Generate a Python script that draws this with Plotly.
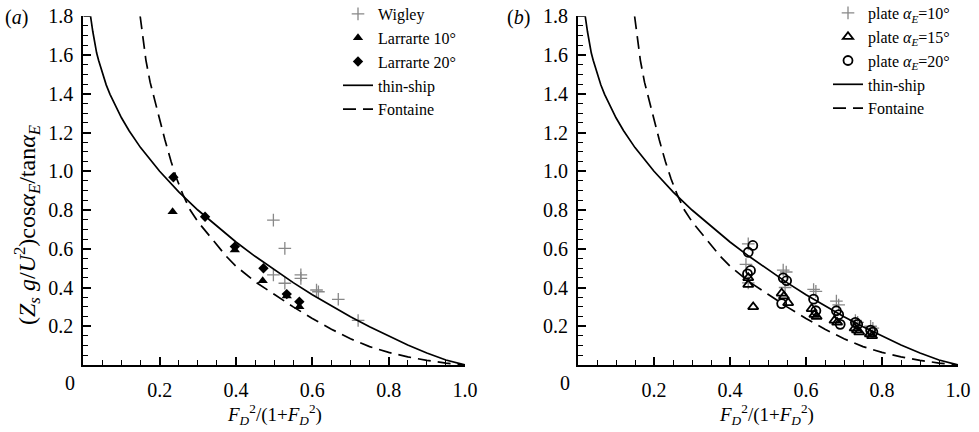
import plotly.graph_objects as go

# ---------------- data ----------------
thin_x = [0.0, 0.019, 0.025, 0.03, 0.035, 0.04, 0.05, 0.06, 0.07, 0.08, 0.10, 0.12, 0.15,
          0.20, 0.25, 0.30, 0.35, 0.40, 0.45, 0.50, 0.55, 0.60, 0.65, 0.70, 0.75, 0.80,
          0.85, 0.90, 0.95, 1.0]
thin_y = [1.8, 1.8, 1.72, 1.66, 1.61, 1.573, 1.505, 1.446, 1.397, 1.355, 1.276, 1.209, 1.122,
          1.0, 0.894, 0.80, 0.715, 0.635, 0.561, 0.491, 0.425, 0.363, 0.305, 0.249, 0.197, 0.148,
          0.103, 0.062, 0.026, 0.0]

font_x = [0.149, 0.156, 0.164, 0.175, 0.19, 0.20, 0.214, 0.23, 0.245, 0.262, 0.28, 0.30,
          0.325, 0.35, 0.375, 0.40, 0.45, 0.50, 0.55, 0.60, 0.65, 0.70, 0.75, 0.80, 0.85,
          0.90, 0.95, 1.0]
font_y = [1.80, 1.69, 1.574, 1.46, 1.34, 1.265, 1.161, 1.05, 0.96, 0.875, 0.80, 0.74,
          0.68, 0.625, 0.56, 0.51, 0.43, 0.365, 0.30, 0.24, 0.185, 0.135, 0.095, 0.065, 0.042,
          0.024, 0.01, 0.0]

wigley_x = [0.498, 0.528, 0.498, 0.528, 0.570, 0.570, 0.611, 0.616, 0.668, 0.72]
wigley_y = [0.748, 0.602, 0.465, 0.422, 0.465, 0.447, 0.387, 0.378, 0.339, 0.23]

lar10_x = [0.234, 0.397, 0.470, 0.533, 0.566]
lar10_y = [0.791, 0.594, 0.435, 0.356, 0.301]

lar20_x = [0.236, 0.319, 0.397, 0.472, 0.533, 0.566]
lar20_y = [0.969, 0.765, 0.611, 0.499, 0.366, 0.327]

p10_x = [0.448, 0.442, 0.448, 0.540, 0.548, 0.545, 0.620, 0.626, 0.680, 0.686, 0.730, 0.736, 0.770, 0.776]
p10_y = [0.625, 0.519, 0.424, 0.490, 0.480, 0.400, 0.390, 0.380, 0.330, 0.310, 0.230, 0.220, 0.200, 0.190]

p15_x = [0.448, 0.448, 0.461, 0.536, 0.542, 0.553, 0.615, 0.622, 0.628, 0.675, 0.682, 0.728, 0.734, 0.740, 0.768, 0.774]
p15_y = [0.450, 0.415, 0.300, 0.370, 0.355, 0.321, 0.290, 0.260, 0.250, 0.230, 0.220, 0.190, 0.180, 0.170, 0.160, 0.150]

p20_x = [0.460, 0.448, 0.454, 0.446, 0.540, 0.549, 0.536, 0.620, 0.626, 0.680, 0.686, 0.690, 0.730, 0.736, 0.770, 0.776]
p20_y = [0.617, 0.582, 0.488, 0.470, 0.450, 0.435, 0.317, 0.340, 0.280, 0.280, 0.260, 0.210, 0.220, 0.210, 0.180, 0.170]

x_ticks = [0.2, 0.4, 0.6, 0.8, 1.0]
x_ticktext = ["0.2", "0.4", "0.6", "0.8", "1.0"]
y_ticks = [0.2, 0.4, 0.6, 0.8, 1.0, 1.2, 1.4, 1.6, 1.8]
y_ticktext = ["0.2", "0.4", "0.6", "0.8", "1.0", "1.2", "1.4", "1.6", "1.8"]

# ---------------- figure ----------------
W, H = 979, 432
FONT = "Liberation Serif"
fig = go.Figure()

line_solid = dict(color="black", width=1.7)
line_dash = dict(color="black", width=1.7, dash="13px,7px")

# left panel
fig.add_trace(go.Scatter(x=wigley_x, y=wigley_y, mode="markers", name="Wigley",
                         marker=dict(symbol="cross-thin", size=9, line=dict(color="#888888", width=1.3)),
                         xaxis="x", yaxis="y", legend="legend"))
fig.add_trace(go.Scatter(x=lar10_x, y=lar10_y, mode="markers", name="Larrarte 10°",
                         marker=dict(symbol="triangle-up", size=9, color="black"),
                         xaxis="x", yaxis="y", legend="legend"))
fig.add_trace(go.Scatter(x=lar20_x, y=lar20_y, mode="markers", name="Larrarte 20°",
                         marker=dict(symbol="diamond", size=8, color="black"),
                         xaxis="x", yaxis="y", legend="legend"))
fig.add_trace(go.Scatter(x=thin_x, y=thin_y, mode="lines", name="thin-ship", line=line_solid,
                         xaxis="x", yaxis="y", legend="legend"))
fig.add_trace(go.Scatter(x=font_x, y=font_y, mode="lines", name="Fontaine", line=line_dash,
                         xaxis="x", yaxis="y", legend="legend"))

# right panel
fig.add_trace(go.Scatter(x=p10_x, y=p10_y, mode="markers", name="plate <i>α<sub>E</sub></i>=10°",
                         marker=dict(symbol="cross-thin", size=9, line=dict(color="#888888", width=1.3)),
                         xaxis="x2", yaxis="y2", legend="legend2"))
fig.add_trace(go.Scatter(x=p15_x, y=p15_y, mode="markers", name="plate <i>α<sub>E</sub></i>=15°",
                         marker=dict(symbol="triangle-up-open", size=9, color="black", line=dict(width=1.8)),
                         xaxis="x2", yaxis="y2", legend="legend2"))
fig.add_trace(go.Scatter(x=p20_x, y=p20_y, mode="markers", name="plate <i>α<sub>E</sub></i>=20°",
                         marker=dict(symbol="circle-open", size=9, color="black", line=dict(width=1.8)),
                         xaxis="x2", yaxis="y2", legend="legend2"))
fig.add_trace(go.Scatter(x=thin_x, y=thin_y, mode="lines", name="thin-ship", line=line_solid,
                         xaxis="x2", yaxis="y2", legend="legend2"))
fig.add_trace(go.Scatter(x=font_x, y=font_y, mode="lines", name="Fontaine", line=line_dash,
                         xaxis="x2", yaxis="y2", legend="legend2"))

def xax(domain):
    return dict(domain=domain, range=[0, 1.0], showline=True, linecolor="black", linewidth=2,
                mirror=False, ticks="inside", ticklen=8, tickwidth=1.5, tickcolor="black",
                tickvals=x_ticks, ticktext=x_ticktext, showgrid=False, zeroline=False,
                minor=dict(ticks="inside", ticklen=5, tickwidth=1.2, tickcolor="black", dtick=0.05, showgrid=False),
                tickfont=dict(family=FONT, size=20, color="black"), ticklabelstandoff=6)

def yax(domain, anchor):
    return dict(domain=domain, range=[0, 1.8], showline=True, linecolor="black", linewidth=2,
                mirror=False, ticks="inside", ticklen=8, tickwidth=1.5, tickcolor="black",
                tickvals=y_ticks, ticktext=y_ticktext, showgrid=False, zeroline=False, anchor=anchor,
                minor=dict(ticks="inside", ticklen=5, tickwidth=1.2, tickcolor="black", dtick=0.05, showgrid=False),
                tickfont=dict(family=FONT, size=20, color="black"), ticklabelstandoff=4)

ydom = [67 / H, 415.75 / H]
fig.update_layout(
    width=W, height=H, margin=dict(l=0, r=0, t=0, b=0, autoexpand=False),
    paper_bgcolor="white", plot_bgcolor="white",
    font=dict(family=FONT, size=16, color="black"),
    xaxis=dict(xax([83.3 / W, 465 / W]), anchor="y"),
    yaxis=yax(ydom, "x"),
    xaxis2=dict(xax([578 / W, 958 / W]), anchor="y2"),
    yaxis2=yax(ydom, "x2"),
    legend=dict(x=338 / W, y=1 + 3 / H, xanchor="left", yanchor="top", bgcolor="rgba(0,0,0,0)",
                font=dict(family=FONT, size=16), tracegroupgap=0, itemwidth=30),
    legend2=dict(x=828 / W, y=1 + 4 / H, xanchor="left", yanchor="top", bgcolor="rgba(0,0,0,0)",
                 font=dict(family=FONT, size=16), tracegroupgap=0, itemwidth=30),
)

ann = []
# origin labels
for xc in (70, 565):
    ann.append(dict(x=xc / W, y=1 - 383 / H, xref="paper", yref="paper", text="0", showarrow=False,
                    font=dict(family=FONT, size=20), xanchor="center", yanchor="middle"))
# panel labels
ann.append(dict(x=16 / W, y=1 - 18 / H, xref="paper", yref="paper", text="(<i>a</i>)", showarrow=False,
                font=dict(family=FONT, size=20), xanchor="center", yanchor="middle"))
ann.append(dict(x=518 / W, y=1 - 18 / H, xref="paper", yref="paper", text="(<i>b</i>)", showarrow=False,
                font=dict(family=FONT, size=20), xanchor="center", yanchor="middle"))
# x titles
xt = "<i>F</i><sub><i>D</i></sub><sup>2</sup>/(1+<i>F</i><sub><i>D</i></sub><sup>2</sup>)"
for xc in (274, 766):
    ann.append(dict(x=xc / W, y=1 - 414 / H, xref="paper", yref="paper", text=xt, showarrow=False,
                    font=dict(family=FONT, size=19), xanchor="center", yanchor="middle"))
# y title
yt = "(<i>Z<sub>s</sub> g</i>/<i>U</i><sup>2</sup>)cos<i>α<sub>E</sub></i>/tan<i>α<sub>E</sub></i>"
ann.append(dict(x=27 / W, y=1 - 225 / H, xref="paper", yref="paper", text=yt, showarrow=False, textangle=-90,
                font=dict(family=FONT, size=24), xanchor="center", yanchor="middle"))
fig.update_layout(annotations=ann)

fig.write_html("out.html")
